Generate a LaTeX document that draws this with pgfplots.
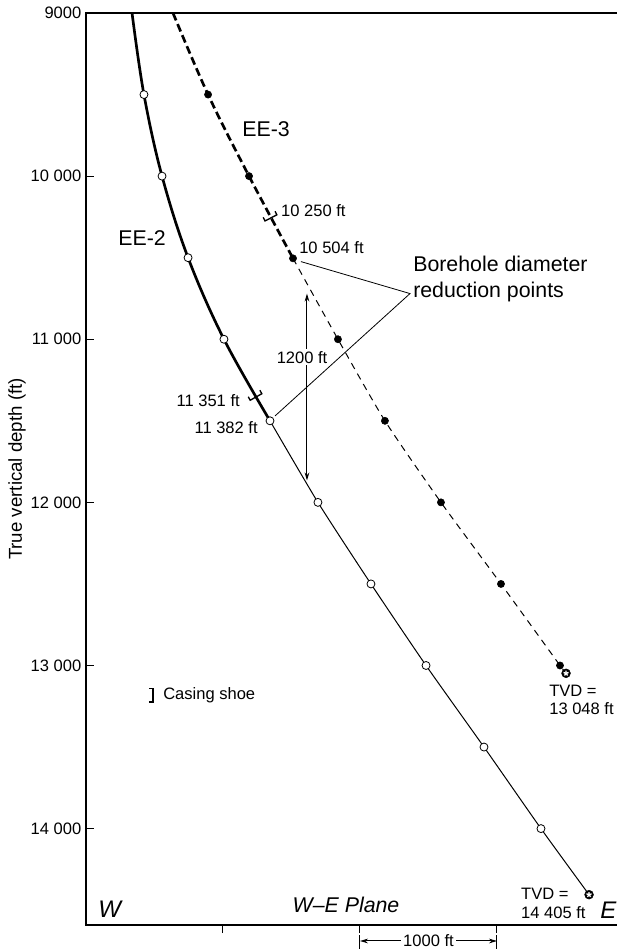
\documentclass[border=0pt]{standalone}
\usepackage{pgfplots}
\pgfplotsset{compat=1.18}
\usepackage{fontspec}
\setmainfont{Liberation Sans}
\usetikzlibrary{arrows.meta}
\newcommand{\fa}{\fontsize{12.4}{14}\selectfont}
\newcommand{\fb}{\fontsize{16}{19.5}\selectfont}
\newcommand{\fc}{\fontsize{18}{20}\selectfont}
\newcommand{\fy}{\fontsize{14}{16}\selectfont}
\pgfdeclareplotmark{shoe}{%
  \pgfpathmoveto{\pgfqpoint{-3pt}{-5pt}}%
  \pgfpathlineto{\pgfqpoint{0pt}{-5pt}}%
  \pgfpathlineto{\pgfqpoint{0pt}{5pt}}%
  \pgfpathlineto{\pgfqpoint{-3pt}{5pt}}%
  \pgfusepathqstroke}
\begin{document}
\begin{tikzpicture}
\begin{axis}[name=ax, at={(0,0)}, anchor=south west,
  scale only axis, width=398.25pt, height=684pt,
  xmin=0, xmax=3876, ymin=9000, ymax=14591, y dir=reverse,
  axis line style={draw=none},
  clip=false,
  xtick={1000,2000,3000}, xticklabels={},
  ytick={9000,10000,11000,12000,13000,14000},
  yticklabels={9000,10~000,11~000,12~000,13~000,14~000},
  yticklabel style={font=\fa, text=black, inner ysep=0pt},
  xtick pos=left, ytick pos=left,
  tick align=inside, major tick length=6pt,
  tick style={line width=0.75pt, black},
  xtick style={yshift=-6pt},
]
% axis frame (left, top, bottom)
\draw[line width=1pt] (axis description cs:1,1) -- (axis description cs:0,1) -- (axis description cs:0,0) -- (axis description cs:1,0);

% EE-2
\addplot[line width=2pt, smooth, tension=0.6] coordinates {(336,9000) (423,9500) (555,10000) (745,10500) (1007,11000) (1343,11500)};
\addplot[line width=0.75pt, smooth, tension=0.4] coordinates {(1343,11500) (1693,12000) (2080,12500) (2482,13000) (2905,13500) (3321,14000) (3672,14405)};
% EE-3
\addplot[line width=2pt, dash pattern=on 6pt off 3pt, smooth, tension=0.6] coordinates {(635,9000) (891,9500) (1190,10000) (1511,10504)};
\addplot[line width=0.75pt, dash pattern=on 5pt off 4pt, smooth, tension=0.4] coordinates {(1511,10504) (1839,11000) (2182,11500) (2591,12000) (3029,12500) (3460,13000) (3504,13048)};

% markers
\addplot[only marks, mark=*, mark size=3pt, mark options={fill=white, draw=black, line width=0.6pt}] coordinates {(423,9500) (555,10000) (745,10500) (1007,11000) (1343,11500) (1693,12000) (2080,12500) (2482,13000) (2905,13500) (3321,14000)};
\addplot[only marks, mark=*, mark size=2.7pt, black] coordinates {(891,9500) (1190,10000) (1511,10504) (1839,11000) (2182,11500) (2591,12000) (3029,12500) (3460,13000)};
\addplot[only marks, mark=*, mark size=3.3pt, black] coordinates {(3504,13048) (3672,14405)};
\addplot[only marks, mark=star, mark size=2pt, white, mark options={line width=1pt}] coordinates {(3504,13048) (3672,14405)};

% casing shoes
\addplot[only marks, mark=shoe, mark options={rotate=-62.6, line width=1pt, solid}] coordinates {(1350,10256)};
\addplot[only marks, mark=shoe, mark options={rotate=-60.7, line width=1pt, solid}] coordinates {(1241,11354)};
\addplot[only marks, mark=shoe, mark options={line width=1pt, solid}] coordinates {(489,13183)};
\node[font=\fa, anchor=west, inner sep=0pt] at (axis cs:562,13183) {Casing shoe};

% labels
\node[font=\fb] at (axis cs:1314,9709) {EE-3};
\node[font=\fb] at (axis cs:409,10378) {EE-2};
\node[font=\fa, anchor=west, inner sep=0pt] at (axis cs:1423,10213) {10 250 ft};
\node[font=\fa, anchor=west, inner sep=0pt] at (axis cs:1555,10439) {10 504 ft};
\node[font=\fb, anchor=west, align=left, inner sep=0pt] at (axis cs:2387,10628) {Borehole diameter\\reduction points};
\draw[line width=0.6pt] (axis cs:1569,10524) -- (axis cs:2365,10720) -- (axis cs:1380,11470);
\draw[line width=0.75pt, {Stealth[length=6pt,width=3.5pt]}-{Stealth[length=6pt,width=3.5pt]}] (axis cs:1613,10720) -- (axis cs:1613,11866);
\node[font=\fa, fill=white, inner sep=1.5pt] at (axis cs:1577,11110) {1200 ft};
\node[font=\fa, anchor=east, inner sep=0pt] at (axis cs:1124,11378) {11 351 ft};
\node[font=\fa, anchor=east, inner sep=0pt] at (axis cs:1255,11543) {11 382 ft};
\node[font=\fontsize{12.4}{13.5}\selectfont, anchor=west, align=left, inner sep=0pt] at (axis cs:3380,13213) {TVD =\\13 048 ft};
\node[font=\fontsize{12.4}{14.25}\selectfont, anchor=west, align=left, inner sep=0pt] at (axis cs:3175,14460) {TVD =\\14 405 ft};
\node[font=\fc\itshape, anchor=west, inner sep=0pt] at (axis cs:88,14493) {W};
\node[font=\fc\itshape, anchor=west, inner sep=0pt] at (axis cs:3752,14500) {E};
\node[font=\fb\itshape] at (axis cs:1898,14468) {W–E Plane};
\node[font=\fy, rotate=90] at ([xshift=-51.75pt]axis description cs:0,0.5) {True vertical depth (ft)};

% scale bar
\draw[line width=0.75pt] (axis cs:2000,14655) -- (axis cs:2000,14745);
\draw[line width=0.75pt] (axis cs:3000,14655) -- (axis cs:3000,14745);
\draw[line width=0.75pt, {Stealth[length=6pt,width=3.5pt]}-{Stealth[length=6pt,width=3.5pt]}] (axis cs:2000,14689) -- (axis cs:3000,14689) node[midway, fill=white, font=\fa, inner sep=2pt] {1000 ft};
\end{axis}
\pgfresetboundingbox
\path[use as bounding box] ([xshift=-64.5pt,yshift=-18pt]ax.south west) rectangle ([yshift=9.75pt]ax.north east);
\end{tikzpicture}
\end{document}
